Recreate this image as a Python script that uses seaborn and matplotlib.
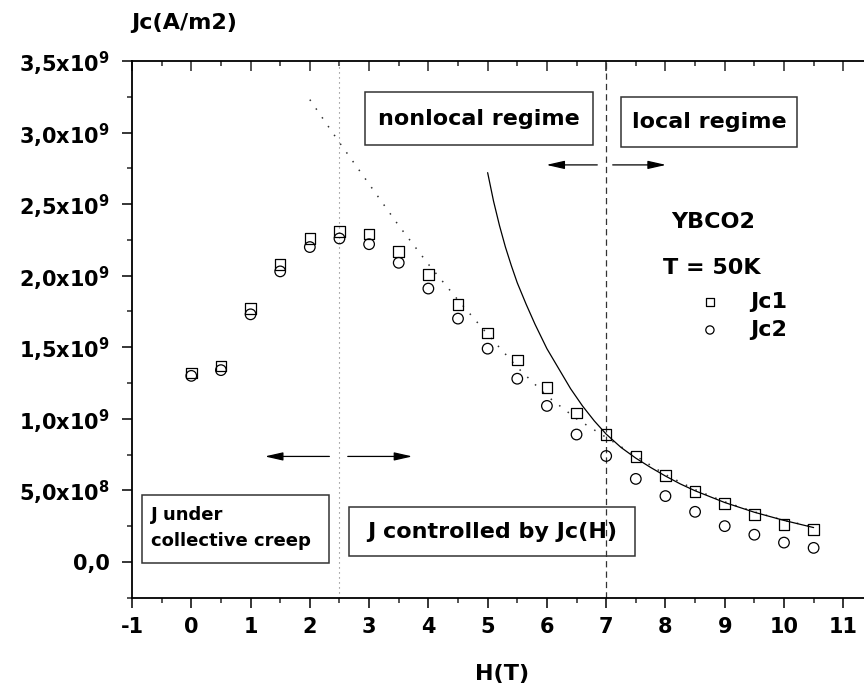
import matplotlib
matplotlib.use('Agg')

import numpy as np
import pandas as pd
import seaborn as sns
import matplotlib.pyplot as plt
from matplotlib.patches import Rectangle
from matplotlib.ticker import MultipleLocator

# measured points (field in T, Jc in A/m2)
H = [0.0, 0.5, 1.0, 1.5, 2.0, 2.5, 3.0, 3.5, 4.0, 4.5, 5.0, 5.5,
     6.0, 6.5, 7.0, 7.5, 8.0, 8.5, 9.0, 9.5, 10.0, 10.5]
jc1 = [1.32, 1.37, 1.77, 2.08, 2.26, 2.31, 2.29, 2.17, 2.01, 1.80, 1.60, 1.41,
       1.22, 1.04, 0.89, 0.735, 0.605, 0.49, 0.41, 0.33, 0.26, 0.226]
jc2 = [1.30, 1.34, 1.73, 2.03, 2.20, 2.26, 2.22, 2.09, 1.91, 1.70, 1.49, 1.28,
       1.09, 0.89, 0.74, 0.58, 0.46, 0.35, 0.25, 0.19, 0.135, 0.098]

# solid curve (local regime fit)
H_solid = [5.0, 5.1, 5.2, 5.3, 5.4, 5.5, 5.65, 5.8, 6.0, 6.2, 6.4, 6.6, 6.8, 7.0,
           7.25, 7.5, 7.75, 8.0, 8.25, 8.5, 9.0, 9.5, 10.0, 10.5]
j_solid = [2.72, 2.52, 2.35, 2.20, 2.07, 1.95, 1.80, 1.66, 1.49, 1.35, 1.21, 1.09,
           0.985, 0.893, 0.80, 0.725, 0.66, 0.60, 0.545, 0.497, 0.415, 0.347, 0.29, 0.24]

# dotted curve (Jc(H) fit)
H_dot = [2.0, 2.5, 3.0, 3.5, 4.0, 4.5, 5.0, 5.5, 6.0, 6.5, 7.0,
         7.5, 8.0, 8.5, 9.0, 9.5, 10.0, 10.5]
j_dot = [3.23, 2.93, 2.64, 2.35, 2.08, 1.83, 1.59, 1.36, 1.16, 1.00, 0.87,
         0.74, 0.61, 0.505, 0.42, 0.35, 0.29, 0.245]

ytick_vals = [0.0, 0.5, 1.0, 1.5, 2.0, 2.5, 3.0, 3.5]
ytick_labels = ['0,0', '5,0x10$^{8}$', '1,0x10$^{9}$', '1,5x10$^{9}$',
                '2,0x10$^{9}$', '2,5x10$^{9}$', '3,0x10$^{9}$', '3,5x10$^{9}$']
xtick_vals = list(range(-1, 12))

sns.set_style('ticks')
plt.rcParams['font.family'] = ['DejaVu Sans']
plt.rcParams['font.weight'] = 'bold'
plt.rcParams['text.color'] = 'black'
plt.rcParams['axes.labelcolor'] = 'black'
plt.rcParams['mathtext.fontset'] = 'custom'
plt.rcParams['mathtext.rm'] = 'DejaVu Sans:bold'
plt.rcParams['mathtext.default'] = 'rm'

E = 1e9
pts = pd.DataFrame({'H': H + H,
                    'Jc': [v * E for v in jc1] + [v * E for v in jc2],
                    'series': ['Jc1'] * len(H) + ['Jc2'] * len(H)})
solid = pd.DataFrame({'H': H_solid, 'Jc': [v * E for v in j_solid]})
dotted = pd.DataFrame({'H': H_dot, 'Jc': [v * E for v in j_dot]})

fig = plt.figure(figsize=(8.64, 6.87), dpi=100)
ax = fig.add_axes([0.1528, 0.13, 0.8472, 0.7812])

# guide lines
ax.axvline(2.5, color='#777777', lw=0.8, ls=(0, (1, 3.5)), zorder=1)
ax.axvline(7.0, color='#333333', lw=0.9, ls=(0, (5, 3.3)), zorder=1)

sns.lineplot(data=dotted, x='H', y='Jc', ax=ax, color='#333333', lw=1.1,
             ls=(0, (1, 6)), sort=False, estimator=None, legend=False)
sns.lineplot(data=solid, x='H', y='Jc', ax=ax, color='black', lw=0.9,
             sort=False, estimator=None, legend=False)

for name, mk in [('Jc1', 's'), ('Jc2', 'o')]:
    sub = pts[pts['series'] == name]
    sns.scatterplot(data=sub, x='H', y='Jc', ax=ax, marker=mk, s=58,
                    facecolor='none', edgecolor='black', linewidth=0.9,
                    label=name, zorder=3)

ax.set_xlim(-1, 11.35)
ax.set_ylim(-0.25 * E, 3.5 * E)
ax.set_xticks(xtick_vals)
ax.set_xticklabels([str(v) for v in xtick_vals])
ax.xaxis.set_minor_locator(MultipleLocator(0.5))
ax.set_yticks([v * E for v in ytick_vals])
ax.set_yticklabels(ytick_labels)
ax.yaxis.set_minor_locator(MultipleLocator(0.25 * E))
ax.tick_params(which='major', direction='out', length=7, width=1.1,
               labelsize=15, colors='black')
ax.tick_params(which='minor', direction='out', length=3.5, width=1.1)
ax.tick_params(axis='y', which='major', pad=9)
ax.tick_params(axis='x', which='major', pad=7)
ax.set_xlabel('')
ax.set_ylabel('')
for side in ['right', 'top']:
    ax.spines[side].set_visible(False)
for side in ['left', 'bottom']:
    ax.spines[side].set_linewidth(1.3)
    ax.spines[side].set_color('black')

top = ax.secondary_xaxis('top')
top.set_xticks(xtick_vals)
top.xaxis.set_minor_locator(MultipleLocator(0.5))
top.tick_params(which='major', direction='in', length=7, width=1.1, labeltop=False)
top.tick_params(which='minor', direction='in', length=3.5, width=1.1)
top.spines['top'].set_linewidth(1.3)
top.spines['top'].set_color('black')

# boxed annotations
boxes = [
    ((2.93, 2.915 * E), 3.85, 0.365 * E, 'nonlocal regime', 16),
    ((7.25, 2.898 * E), 2.97, 0.352 * E, 'local regime', 16),
    ((2.66, 0.039 * E), 4.83, 0.345 * E, 'J controlled by Jc(H)', 16),
]
for (x0, y0), w, h, txt, fs in boxes:
    ax.add_patch(Rectangle((x0, y0), w, h, fill=False, ec='#333333', lw=1.1, zorder=4))
    ax.text(x0 + w / 2, y0 + h / 2, txt, ha='center', va='center',
            fontsize=fs, fontweight='bold', zorder=5)
ax.add_patch(Rectangle((-0.84, -0.007 * E), 3.17, 0.475 * E, fill=False,
                       ec='#333333', lw=1.1, zorder=4))
ax.text(-0.68, 0.235 * E, 'J under\ncollective creep', ha='left', va='center',
        fontsize=13, fontweight='bold', linespacing=1.55, zorder=5)

arrow = dict(arrowstyle='-|>,head_length=1.1,head_width=0.25', color='black',
             lw=0.9, shrinkA=0, shrinkB=0)
for x_from, x_to, y in [(2.33, 1.24, 0.737), (2.64, 3.73, 0.737),
                        (6.85, 5.99, 2.774), (7.11, 8.01, 2.774)]:
    ax.annotate('', xy=(x_to, y * E), xytext=(x_from, y * E), arrowprops=arrow)

ax.text(8.80, 2.378 * E, 'YBCO2', ha='center', va='center', fontsize=16, fontweight='bold')
ax.text(8.78, 2.055 * E, 'T = 50K', ha='center', va='center', fontsize=16, fontweight='bold')

ax.legend(loc='center left', bbox_to_anchor=(0.747, 0.525), frameon=False,
          prop={'size': 16, 'weight': 'bold'}, handlelength=1.0,
          handletextpad=1.3, labelspacing=0.35, markerscale=0.78)

fig.text(0.213, 0.966, 'Jc(A/m2)', ha='center', va='center', fontsize=16, fontweight='bold')
fig.text(0.5807, 0.019, 'H(T)', ha='center', va='center', fontsize=16, fontweight='bold')

fig.savefig('out.png', dpi=100)
